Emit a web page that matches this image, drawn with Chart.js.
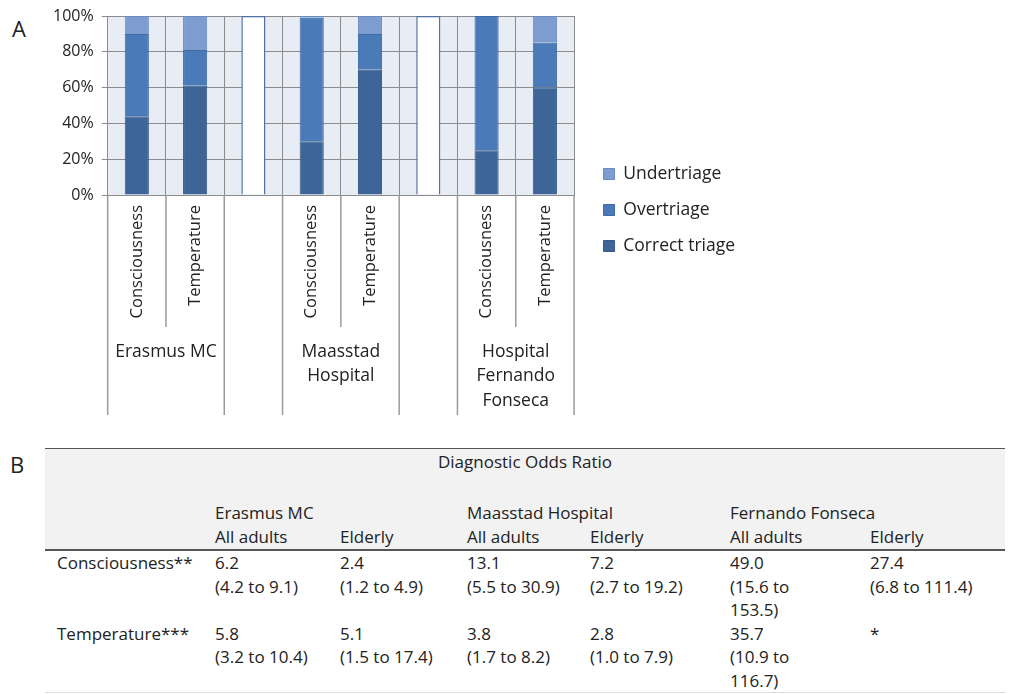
<!DOCTYPE html>
<html>
<head>
<meta charset="utf-8">
<script src="https://cdn.jsdelivr.net/npm/chart.js@4.4.1/dist/chart.umd.min.js"></script>
<style>
body { margin: 0; background: #fff; font-family: "Open Sans", sans-serif; color: #222; }
#hoja { position: relative; width: 1009px; height: 694px; overflow: hidden; }
#panelA { position: absolute; left: 0; top: 0; width: 760px; height: 420px; }
.letra { position: absolute; font-size: 22px; line-height: 22px; }
#tablaDOR { position: absolute; left: 45px; top: 448px; width: 960px; border-collapse: collapse; table-layout: fixed; font-size: 17px; line-height: 24px; }
#tablaDOR td { padding: 0; vertical-align: top; white-space: nowrap; }
#tablaDOR tr.cab td { background: #f2f2f2; }
#tablaDOR tr.titulo td { border-top: 1.5px solid #555; height: 51px; text-align: center; padding-top: 1px; }
#tablaDOR tr.sub td { border-bottom: 2px solid #555; }
#tablaDOR tr.dato td { line-height: 23.5px; }
#tablaDOR td.fila { padding-left: 12px; }
#tablaDOR tr.ultima td { border-bottom: 1px solid #ddd; }
.estrecha { white-space: normal !important; }
.estrecha span { display: block; width: 80px; }
</style>
</head>
<body>
<div id="hoja">
  <div class="letra" style="left:12px; top:17px;">A</div>
  <div id="panelA"><canvas id="graficoTriage"></canvas></div>
  <div class="letra" style="left:10px; top:453px;">B</div>
  <table id="tablaDOR">
    <colgroup>
      <col style="width:170px"><col style="width:125px"><col style="width:127px"><col style="width:123px">
      <col style="width:140px"><col style="width:140px"><col style="width:135px">
    </colgroup>
    <tbody id="cuerpoTabla"></tbody>
  </table>
</div>
<script>
// datos del panel A
const categorias = ["Consciousness", "Temperature", "", "Consciousness", "Temperature", "", "Consciousness", "Temperature"];
const correctTriage = [44, 61, null, 30, 70, null, 25, 60];
const overtriage = [46, 20, null, 69, 20, null, 75, 25];
const undertriage = [10, 19, null, 1, 10, null, 0, 15];
const separador = [null, null, 100, null, null, 100, null, null];
const hospitales = [["Erasmus MC"], ["Maasstad", "Hospital"], ["Hospital", "Fernando", "Fonseca"]];
const inicioHospital = [0, 3, 6];

// datos del panel B
const titulo = "Diagnostic Odds Ratio";
const sitios = ["Erasmus MC", "Maasstad Hospital", "Fernando Fonseca"];
const subgrupos = ["All adults", "Elderly"];
const filas = ["Consciousness**", "Temperature***"];
const dorConsciousness = ["6.2", "2.4", "13.1", "7.2", "49.0", "27.4"];
const ciConsciousness = ["(4.2 to 9.1)", "(1.2 to 4.9)", "(5.5 to 30.9)", "(2.7 to 19.2)", "(15.6 to 153.5)", "(6.8 to 111.4)"];
const dorTemperature = ["5.8", "5.1", "3.8", "2.8", "35.7", "*"];
const ciTemperature = ["(3.2 to 10.4)", "(1.5 to 17.4)", "(1.7 to 8.2)", "(1.0 to 7.9)", "(10.9 to 116.7)", ""];

function armarTabla() {
    const cuerpo = document.getElementById("cuerpoTabla");
    let html = `<tr class="cab titulo"><td colspan="7">${titulo}</td></tr>`;
    html += `<tr class="cab"><td></td>`;
    sitios.forEach(s => { html += `<td colspan="2">${s}</td>`; });
    html += `</tr><tr class="cab sub"><td></td>`;
    sitios.forEach(() => subgrupos.forEach(g => { html += `<td>${g}</td>`; }));
    html += `</tr>`;
    const valores = [[dorConsciousness, ciConsciousness], [dorTemperature, ciTemperature]];
    filas.forEach((f, i) => {
        html += `<tr class="dato ${i === filas.length - 1 ? "ultima" : ""}"><td class="fila">${f}</td>`;
        valores[i][0].forEach((v, j) => {
            const ci = valores[i][1][j];
            if (j === 4) {
                html += `<td class="estrecha">${v}<span>${ci}</span></td>`;
            } else {
                html += `<td>${v}<br>${ci}</td>`;
            }
        });
        html += `</tr>`;
    });
    cuerpo.innerHTML = html;
}
armarTabla();

const fondoArea = {
    id: "fondoArea",
    beforeDraw(chart) {
        const { ctx, chartArea } = chart;
        ctx.save();
        ctx.fillStyle = "#e8ecf4";
        ctx.fillRect(chartArea.left, chartArea.top, chartArea.right - chartArea.left, chartArea.bottom - chartArea.top);
        ctx.restore();
    }
};

// separa la leyenda del area del grafico
const separarLeyenda = {
    id: "separarLeyenda",
    afterLayout(chart) {
        chart.legend.left += 11;
        chart.legend.right += 11;
    }
};

const ejeHospitales = {
    id: "ejeHospitales",
    afterDraw(chart) {
        const { ctx, chartArea } = chart;
        const x = chart.scales.x;
        const ancho = x.getPixelForValue(1) - x.getPixelForValue(0);
        const base = chartArea.bottom;
        const internos = inicioHospital.map(i => i + 1);
        ctx.save();
        ctx.strokeStyle = "#9a9a9a";
        ctx.lineWidth = 1.5;
        for (let i = 0; i <= categorias.length; i++) {
            const px = x.getPixelForValue(0) - ancho / 2 + i * ancho;
            const largo = internos.includes(i) ? 132 : 220;
            ctx.beginPath();
            ctx.moveTo(px, base);
            ctx.lineTo(px, base + largo);
            ctx.stroke();
        }
        ctx.fillStyle = "#222";
        ctx.font = "17.5px 'Open Sans'";
        ctx.textAlign = "center";
        ctx.textBaseline = "middle";
        hospitales.forEach((lineas, g) => {
            const cx = x.getPixelForValue(inicioHospital[g]) + ancho / 2;
            lineas.forEach((t, k) => ctx.fillText(t, cx, base + 157 + k * 24.5));
        });
        ctx.restore();
    }
};

const ctx = document.getElementById("graficoTriage").getContext("2d");
new Chart(ctx, {
    type: "bar",
    data: {
        labels: categorias,
        datasets: [
            { label: "Correct triage", data: correctTriage, backgroundColor: "#3e6597", borderColor: "#36598a", borderWidth: 1 },
            { label: "Overtriage", data: overtriage, backgroundColor: "#4a7ab7", borderColor: "#3f6ba5", borderWidth: 1 },
            { label: "Undertriage", data: undertriage, backgroundColor: "#7d9dd0", borderColor: "#6a8cc2", borderWidth: 1 },
            { label: "", data: separador, backgroundColor: "#ffffff", borderColor: "#4f73a3", borderWidth: 1.5 }
        ]
    },
    options: {
        responsive: true,
        maintainAspectRatio: false,
        animation: false,
        datasets: { bar: { barPercentage: 0.9, categoryPercentage: 0.46 } },
        layout: { padding: { left: 45, top: 4, right: 26, bottom: 4 } },
        scales: {
            x: {
                stacked: true,
                grid: { color: "#8c8c8c", lineWidth: 1, drawTicks: false },
                border: { color: "#8c8c8c" },
                ticks: { color: "#222", font: { family: "Open Sans", size: 16.5 }, minRotation: 90, maxRotation: 90, padding: 10, autoSkip: false },
                afterFit: s => { s.height = 221; }
            },
            y: {
                stacked: true,
                min: 0,
                max: 100,
                grid: { color: "#8c8c8c", lineWidth: 1, tickLength: 6 },
                border: { color: "#8c8c8c" },
                ticks: { stepSize: 20, color: "#222", padding: 8, font: { family: "Open Sans", size: 16, lineHeight: 1 }, callback: v => v + "%" }
            }
        },
        plugins: {
            legend: {
                position: "right",
                reverse: true,
                labels: {
                    boxWidth: 11,
                    boxHeight: 11,
                    padding: 18.5,
                    color: "#222",
                    font: { family: "Open Sans", size: 17.5 },
                    filter: item => item.text !== ""
                }
            },
            tooltip: { enabled: false }
        }
    },
    plugins: [fondoArea, separarLeyenda, ejeHospitales]
});
</script>
</body>
</html>
